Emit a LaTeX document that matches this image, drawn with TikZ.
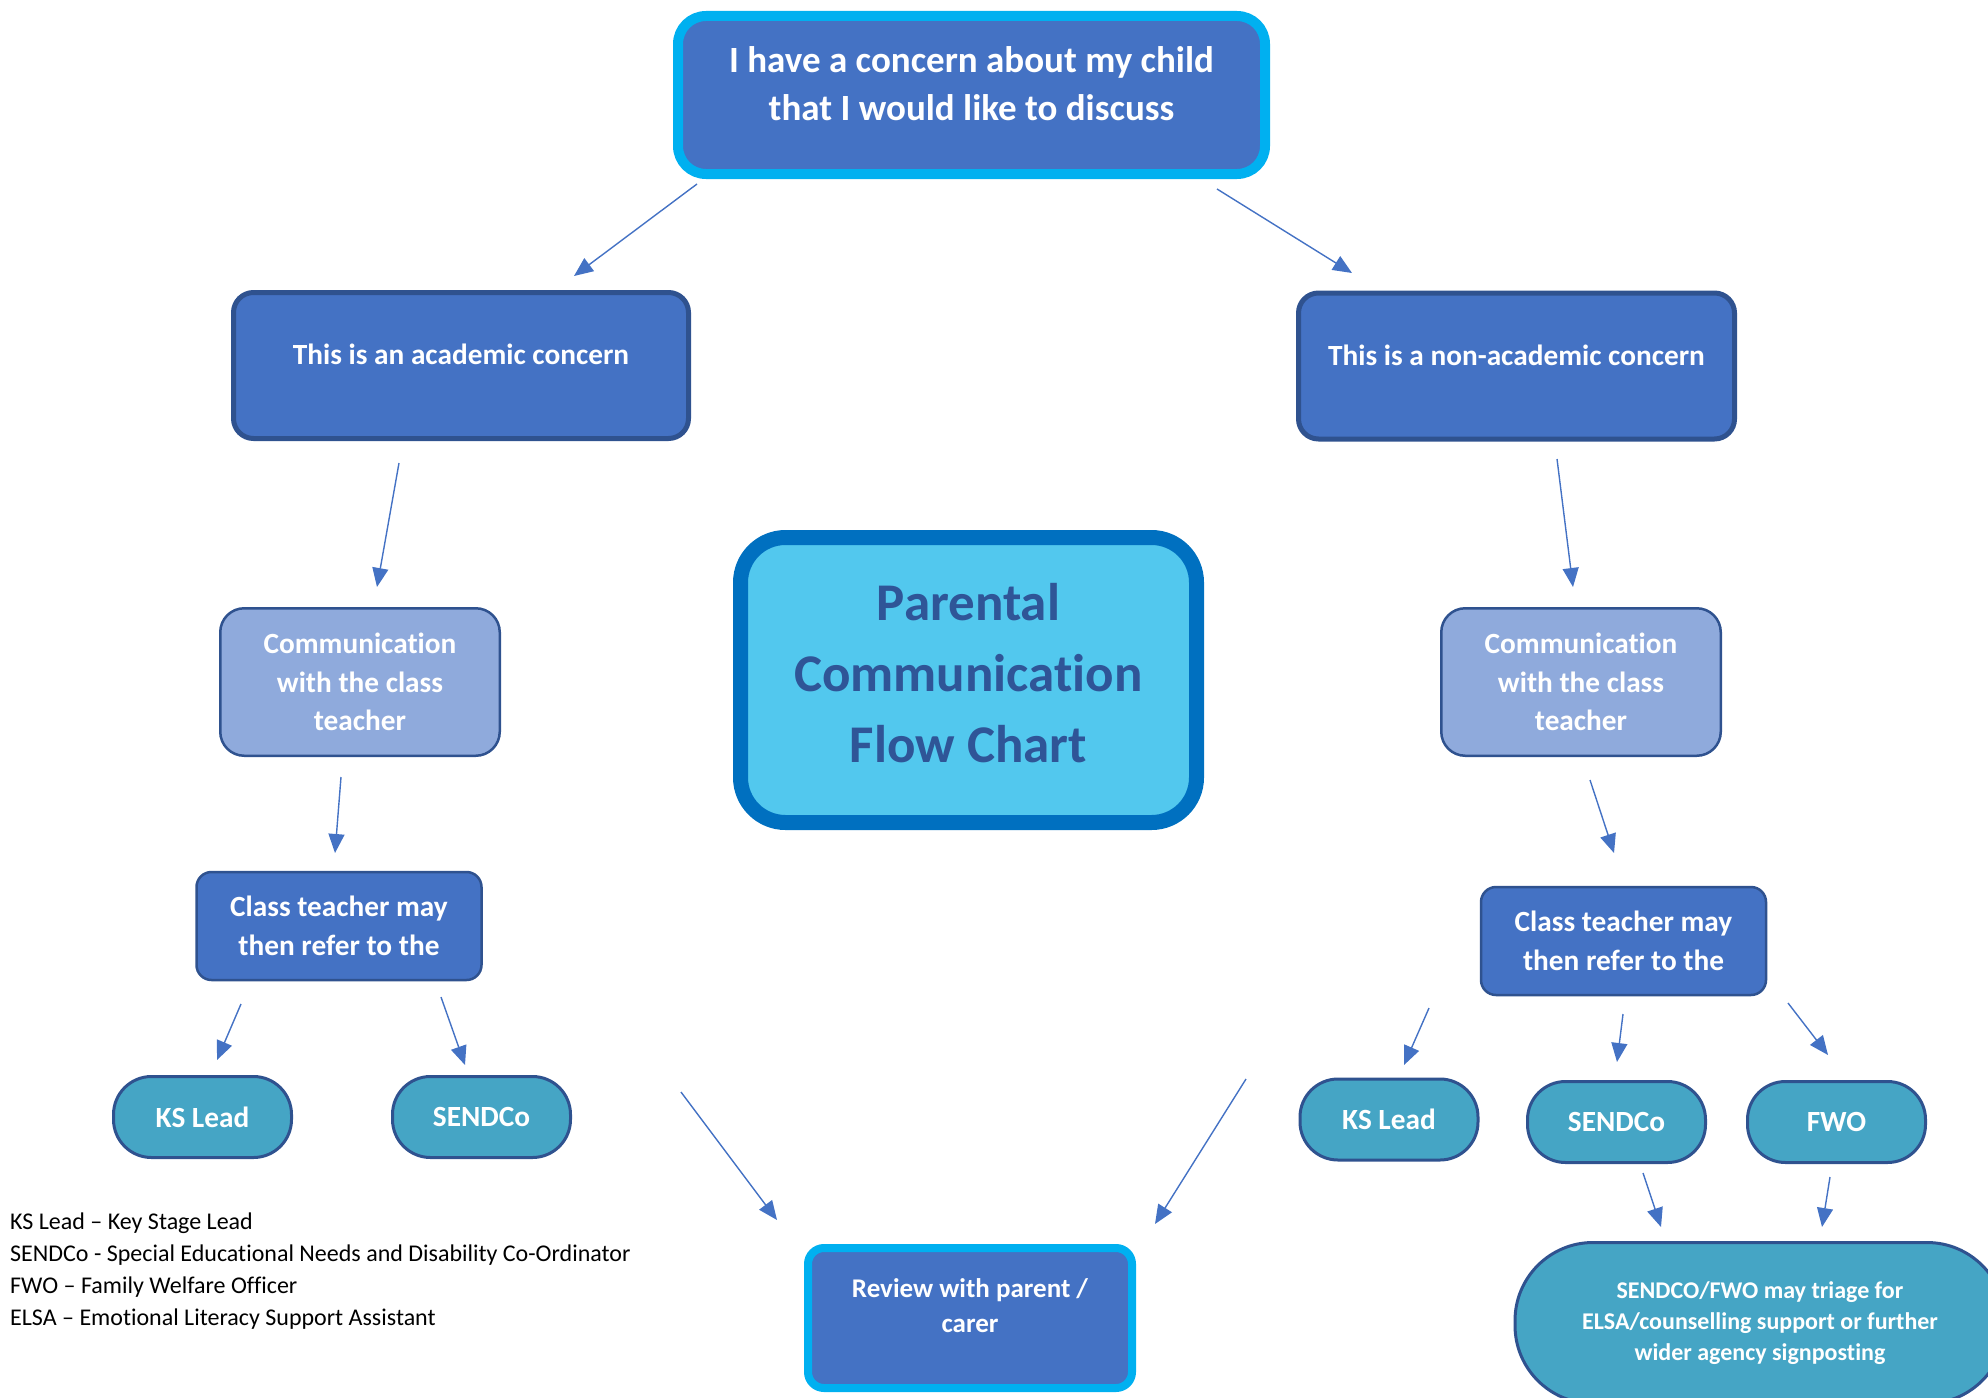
\documentclass[tikz,border=0pt]{standalone}
\usepackage{fontspec}
\setmainfont{Carlito}[Ligatures={NoCommon,NoContextual,NoRare}]
\usetikzlibrary{arrows.meta}
\definecolor{mainblue}{HTML}{4472C4}
\definecolor{darkedge}{HTML}{2F528F}
\definecolor{cyanedge}{HTML}{00B0F0}
\definecolor{titlefill}{HTML}{52C8EE}
\definecolor{titleedge}{HTML}{0070C0}
\definecolor{titletext}{HTML}{2F5597}
\definecolor{lightblue}{HTML}{8FAADC}
\definecolor{tealfill}{HTML}{45A5C5}
\newcommand{\lowpad}[1]{\rule[-#1pt]{0pt}{0pt}}
\begin{document}
\begin{tikzpicture}[x=1pt,y=-1pt,
  box/.style={draw, rectangle, align=center, inner sep=0pt, text=white},
  topbox/.style={box, fill=mainblue, draw=cyanedge, line width=10pt, rounded corners=28pt,
     minimum width=587pt, minimum height=158pt, font=\bfseries\fontsize{37}{48}\selectfont},
  concernbox/.style={box, fill=mainblue, draw=darkedge, line width=5pt, rounded corners=20pt,
     minimum height=146pt, font=\bfseries\fontsize{29.3}{38}\selectfont},
  titlebox/.style={box, fill=titlefill, draw=titleedge, line width=15pt, rounded corners=45pt,
     minimum width=456pt, minimum height=285pt, text=titletext, font=\bfseries\fontsize{53}{71}\selectfont},
  commbox/.style={box, fill=lightblue, draw=darkedge, line width=2.5pt, rounded corners=24pt,
     minimum width=279.5pt, minimum height=147.5pt, font=\bfseries\fontsize{29.3}{38.5}\selectfont},
  classbox/.style={box, fill=mainblue, draw=darkedge, line width=2.5pt, rounded corners=15pt,
     minimum width=285pt, minimum height=108pt, font=\bfseries\fontsize{29.3}{39}\selectfont},
  pillbox/.style={box, fill=tealfill, draw=darkedge, line width=3pt, rounded corners=38pt,
     minimum width=178pt, minimum height=81pt, font=\bfseries\fontsize{29.3}{35}\selectfont},
  bigpill/.style={box, fill=tealfill, draw=darkedge, line width=3pt, rounded corners=78pt,
     minimum width=490pt, minimum height=161pt, font=\bfseries\fontsize{24}{31}\selectfont},
  reviewbox/.style={box, fill=mainblue, draw=cyanedge, line width=8pt, rounded corners=16pt,
     minimum width=324pt, minimum height=140pt, font=\bfseries\fontsize{27}{35}\selectfont},
  legend/.style={align=left, inner sep=0pt, anchor=west, text=black, font=\fontsize{24}{32}\selectfont},
  arr/.style={draw=mainblue, line width=1.4pt, -{Triangle[length=19pt,width=16pt]}}
]
\path[use as bounding box] (0,0) rectangle (1988,1397);
\clip (0,0) rectangle (1988,1397);

% nodes
\node[topbox] (top) at (971.5,95) {I have a concern about my child\\that I would like to discuss\lowpad{22}};
\node[concernbox, minimum width=455pt] (acad) at (461,365.5) {This is an academic concern\lowpad{22}};
\node[concernbox, minimum width=436pt] (nonacad) at (1516.5,366) {This is a non-academic concern\lowpad{22}};
\node[titlebox] (title) at (968.5,680) {Parental\\Communication\\Flow Chart\lowpad{14}};
\node[commbox] (lcomm) at (360,682) {Communication\\with the class\\teacher};
\node[commbox] (rcomm) at (1581,682) {Communication\\with the class\\teacher};
\node[classbox] (lclass) at (339,926) {Class teacher may\\then refer to the};
\node[classbox] (rclass) at (1623.5,941) {Class teacher may\\then refer to the};
\node[pillbox] (lks) at (202.5,1117) {KS Lead};
\node[pillbox] (lsend) at (481.5,1117) {SENDCo};
\node[pillbox] (rks) at (1389,1119.5) {KS Lead};
\node[pillbox] (rsend) at (1616.5,1122) {SENDCo};
\node[pillbox] (fwo) at (1836.5,1122) {FWO};
\node[bigpill] (triage) at (1760,1323) {SENDCO/FWO may triage for\\ELSA/counselling support or further\\wider agency signposting};
\node[reviewbox] (review) at (970,1318) {Review with parent /\\carer\lowpad{24}};
\node[legend] (key) at (10,1271) {KS Lead -- Key Stage Lead\\SENDCo - Special Educational Needs and Disability Co-Ordinator\\FWO -- Family Welfare Officer\\ELSA -- Emotional Literacy Support Assistant};

\coordinate (freeL) at (681,1092);
\coordinate (freeR) at (1246,1079);

% connectors
\draw[arr] ([shift={(-274.5,89)}]top.center) -- ([shift={(113,-89.5)}]acad.center);
\draw[arr] ([shift={(245.5,94)}]top.center) -- ([shift={(-164.5,-93)}]nonacad.center);
\draw[arr] ([shift={(-62,97.5)}]acad.center) -- ([shift={(17,-95)}]lcomm.center);
\draw[arr] ([shift={(40.5,93)}]nonacad.center) -- ([shift={(-8,-95)}]rcomm.center);
\draw[arr] ([shift={(-19,95)}]lcomm.center) -- ([shift={(-4,-73)}]lclass.center);
\draw[arr] ([shift={(9,98)}]rcomm.center) -- ([shift={(-9.5,-88)}]rclass.center);
\draw[arr] ([shift={(-98,78)}]lclass.center) -- ([shift={(14.5,-57)}]lks.center);
\draw[arr] ([shift={(102,71)}]lclass.center) -- ([shift={(-16.5,-52)}]lsend.center);
\draw[arr] ([shift={(-194.5,67)}]rclass.center) -- ([shift={(15,-54.5)}]rks.center);
\draw[arr] ([shift={(-0.5,73)}]rclass.center) -- ([shift={(0.5,-60)}]rsend.center);
\draw[arr] ([shift={(164.5,62)}]rclass.center) -- ([shift={(-8.5,-67)}]fwo.center);
\draw[arr] ([shift={(26.5,51)}]rsend.center) -- ([shift={(-99,-96)}]triage.center);
\draw[arr] ([shift={(-6.5,55)}]fwo.center) -- ([shift={(62,-96)}]triage.center);
\draw[arr] (freeL) -- ([shift={(-193,-98)}]review.center);
\draw[arr] (freeR) -- ([shift={(185,-94)}]review.center);
\end{tikzpicture}
\end{document}
